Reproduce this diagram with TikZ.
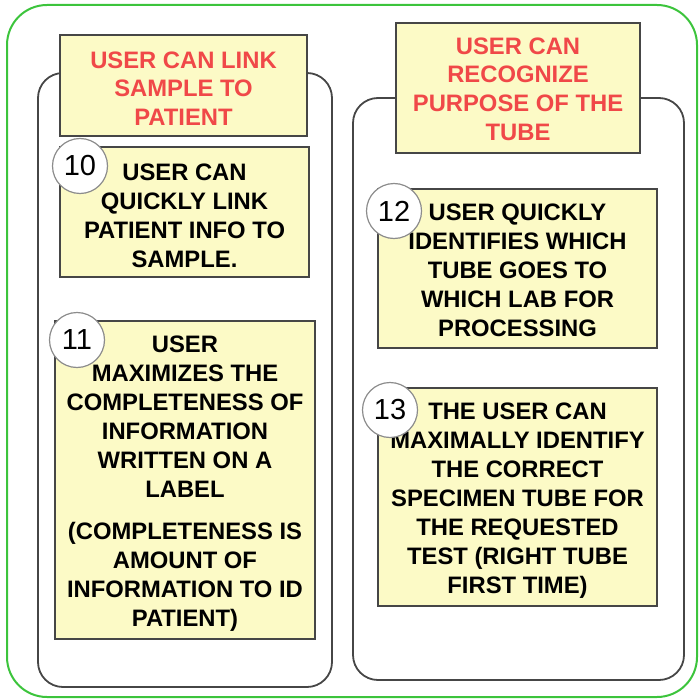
\documentclass[tikz,border=0pt]{standalone}
\usepackage{fontspec}
\setmainfont{Liberation Sans}
\usetikzlibrary{positioning}
\definecolor{noteyellow}{RGB}{252,250,198}
\definecolor{goalred}{RGB}{240,72,72}
\definecolor{framegreen}{RGB}{60,196,60}
\definecolor{edgegray}{RGB}{70,70,70}

\begin{document}
\begin{tikzpicture}[
    x=0.5pt, y=-0.5pt,
    card/.style={rectangle, draw=edgegray, fill=noteyellow, line width=0.8pt, inner sep=0pt},
    goaltext/.style={text=goalred, font=\bfseries\fontsize{11.9}{14.3}\selectfont, align=center, inner sep=0pt},
    needtext/.style={font=\bfseries\fontsize{11.9}{14.5}\selectfont, align=center, inner sep=0pt},
    numbadge/.style={circle, draw=black!45, fill=white, line width=0.6pt, minimum size=27.5pt, inner sep=0pt, font=\fontsize{14.5}{14.5}\selectfont},
    group/.style={draw=edgegray, line width=0.9pt, rounded corners=12.5pt}
]
\useasboundingbox (0,0) rectangle (700,700);

% outer frame and the two groups
\draw[framegreen, line width=1pt, rounded corners=20pt] (7,5) rectangle (697,697);
\draw[group] (38,73) rectangle (332,687);
\draw[group] (353,98) rectangle (684,680);

% left column
\node[card, minimum width=123.5pt, minimum height=50.5pt,
  label={[goaltext, yshift=-1.5pt]center:USER CAN LINK\\SAMPLE TO\\PATIENT}] (linkgoal) at (183.5,85.5) {};
\node[card, minimum width=124.5pt, minimum height=65pt,
  label={[needtext, yshift=-2pt]center:USER CAN\\QUICKLY LINK\\PATIENT INFO TO\\SAMPLE.}] (quicklink) at (184.5,212) {};
\node[card, minimum width=130pt, minimum height=159pt,
  label={[needtext, yshift=-2pt]center:USER\\MAXIMIZES THE\\COMPLETENESS OF\\INFORMATION\\WRITTEN ON A\\LABEL\\[6.5pt](COMPLETENESS IS\\AMOUNT OF\\INFORMATION TO ID\\PATIENT)}] (complete) at (185,480) {};

% right column
\node[card, minimum width=122pt, minimum height=65pt,
  label={[goaltext, yshift=-0.5pt]center:USER CAN\\RECOGNIZE\\PURPOSE OF THE\\TUBE}] (tubegoal) at (518,88) {};
\node[card, minimum width=139.5pt, minimum height=79.5pt,
  label={[needtext, yshift=-1pt]center:USER QUICKLY\\IDENTIFIES WHICH\\TUBE GOES TO\\WHICH LAB FOR\\PROCESSING}] (whichlab) at (517.5,268.5) {};
\node[card, minimum width=139.5pt, minimum height=109pt,
  label={[needtext, yshift=-2pt]center:THE USER CAN\\MAXIMALLY IDENTIFY\\THE CORRECT\\SPECIMEN TUBE FOR\\THE REQUESTED\\TEST (RIGHT TUBE\\FIRST TIME)}] (righttube) at (517.5,497) {};

% numbers
\node[numbadge] (n10) at (80,166) {10};
\node[numbadge] (n11) at (77,340) {11};
\node[numbadge] (n12) at (394,211) {12};
\node[numbadge] (n13) at (390,410) {13};

\end{tikzpicture}
\end{document}
